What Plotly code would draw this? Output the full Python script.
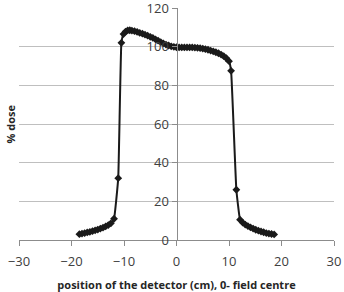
import plotly.graph_objects as go

# position of the detector (cm) and % dose
position_cm = [-18.5, -18.0, -17.5, -17.0, -16.5, -16.0, -15.5, -15.0, -14.5, -14.0,
               -13.5, -13.0, -12.5, -11.9, -11.1, -10.5, -10.1, -9.7, -9.3, -8.9,
               -8.5, -8.0, -7.5, -7.0, -6.5, -6.0, -5.5, -5.0, -4.5, -4.0,
               -3.5, -3.0, -2.5, -2.0, -1.5, -1.0, -0.5, 0.0, 0.5, 1.0,
               1.5, 2.0, 2.5, 3.0, 3.5, 4.0, 4.5, 5.0, 5.5, 6.0,
               6.5, 7.0, 7.5, 8.0, 8.5, 9.0, 9.5, 10.0, 10.4, 11.4,
               12.1, 12.6, 13.1, 13.6, 14.1, 14.6, 15.1, 15.6, 16.1, 16.6,
               17.1, 17.6, 18.1, 18.6]
dose_pct = [3.0, 3.3, 3.6, 3.9, 4.2, 4.6, 5.0, 5.4, 5.9, 6.4,
            7.0, 7.7, 8.6, 11.0, 32.0, 102.0, 106.5, 107.8, 108.4, 108.5,
            108.3, 108.0, 107.6, 107.1, 106.7, 106.2, 105.7, 105.1, 104.5, 103.8,
            103.1, 102.4, 101.7, 101.1, 100.6, 100.2, 99.9, 99.7, 99.6, 99.6,
            99.6, 99.6, 99.6, 99.6, 99.5, 99.4, 99.2, 99.0, 98.7, 98.4,
            98.0, 97.6, 97.1, 96.6, 95.9, 95.1, 94.0, 92.5, 87.5, 26.0,
            10.5, 9.0, 8.0, 7.2, 6.5, 5.9, 5.3, 4.8, 4.4, 4.0,
            3.6, 3.3, 3.1, 2.9]

x_ticks = [-30, -20, -10, 0, 10, 20, 30]
y_ticks = [0, 20, 40, 60, 80, 100, 120]

font_family = "Open Sans, Noto Sans, sans-serif"

fig = go.Figure()
fig.add_trace(go.Scatter(
    x=position_cm, y=dose_pct, mode="lines+markers",
    line=dict(color="#1a1a1a", width=2, shape="spline", smoothing=0.3),
    marker=dict(symbol="diamond", size=6, color="#1a1a1a"),
    showlegend=False,
))
# invisible helper so the centred vertical axis is drawn
fig.add_trace(go.Scatter(
    x=[position_cm[0]], y=[dose_pct[0]], mode="markers", yaxis="y2",
    marker=dict(opacity=0), showlegend=False, hoverinfo="skip",
))

fig.update_layout(
    width=344, height=292,
    margin=dict(l=19, r=10, t=8, b=52, autoexpand=False),
    paper_bgcolor="white", plot_bgcolor="white",
    font=dict(family=font_family, color="#404040", size=13),
    xaxis=dict(
        range=[-30, 30], tickvals=x_ticks, showgrid=False, zeroline=False,
        showline=True, linecolor="#8c8c8c", linewidth=1, automargin=False,
        ticks="outside", ticklen=5, tickcolor="#8c8c8c", ticklabelstandoff=4,
        tickfont=dict(size=13, color="#404040"), ticklabeloverflow="allow",
        title=dict(text="<b>position of the detector (cm), 0- field centre</b>",
                   font=dict(size=11, color="#262626"), standoff=12),
    ),
    yaxis=dict(
        range=[0, 120], tickvals=y_ticks, automargin=False,
        showgrid=True, gridcolor="#bfbfbf", gridwidth=1, zeroline=False,
        showline=False, showticklabels=False, ticks="",
    ),
    yaxis2=dict(
        range=[0, 120], tickvals=y_ticks, overlaying="y", anchor="free", position=0.5,
        showgrid=False, zeroline=False, automargin=False,
        showline=True, linecolor="#8c8c8c", linewidth=1,
        ticks="outside", ticklen=5, tickcolor="#8c8c8c",
        tickfont=dict(size=13, color="#404040"), ticklabeloverflow="allow",
    ),
    annotations=[dict(
        text="<b>% dose</b>", textangle=-90, xref="paper", yref="paper",
        x=-0.03, y=0.5, xanchor="center", yanchor="middle", showarrow=False,
        font=dict(size=11, color="#262626"),
    )],
)

fig.write_html("out.html", config={"displayModeBar": False},
               post_script="document.body.style.margin='0';")
